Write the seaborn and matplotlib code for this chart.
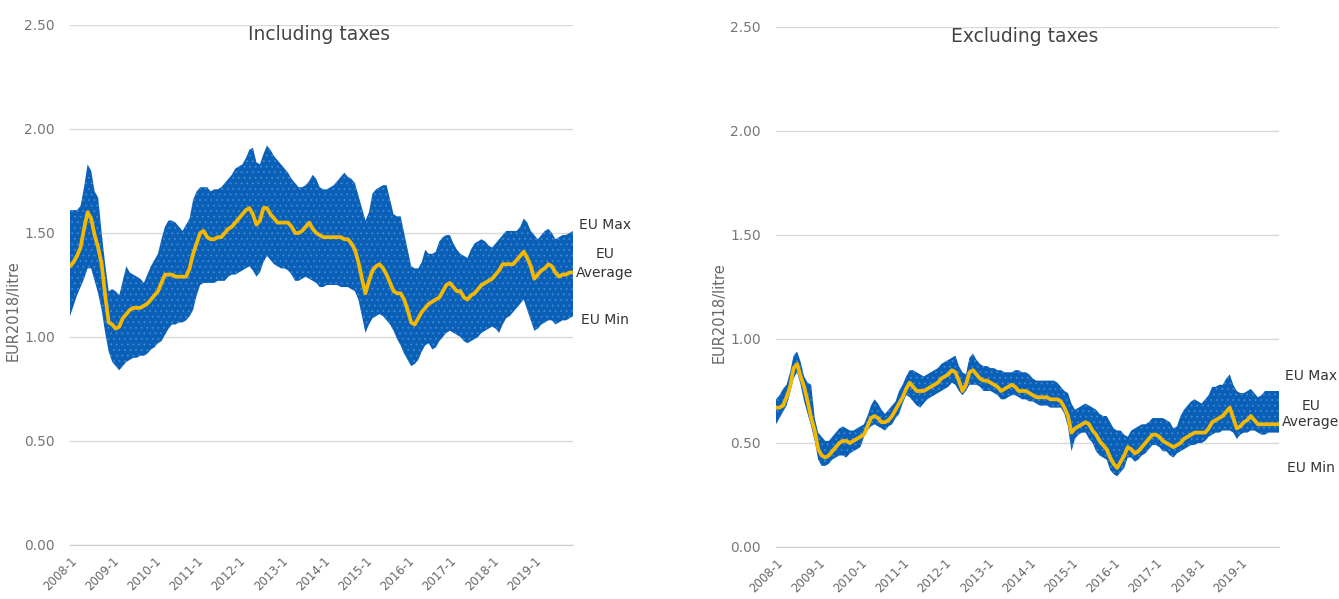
import numpy as np
import pandas as pd
import matplotlib
matplotlib.use("Agg")
import matplotlib.pyplot as plt
import seaborn as sns

# ---------------- data (monthly, 2008-1 .. 2019-12) ----------------
years = list(range(2008, 2020))
tick_labels = [f"{y}-1" for y in years]

incl_max = [
    1.61, 1.61, 1.61, 1.63, 1.72, 1.83, 1.80, 1.70, 1.67, 1.50, 1.35, 1.22,
    1.23, 1.22, 1.20, 1.27, 1.34, 1.31, 1.30, 1.29, 1.28, 1.26, 1.30, 1.34,
    1.37, 1.40, 1.47, 1.53, 1.56, 1.56, 1.55, 1.53, 1.51, 1.54, 1.57, 1.66,
    1.70, 1.72, 1.72, 1.72, 1.70, 1.71, 1.71, 1.72, 1.74, 1.76, 1.78, 1.81,
    1.82, 1.83, 1.86, 1.90, 1.91, 1.84, 1.83, 1.88, 1.92, 1.90, 1.87, 1.85,
    1.83, 1.81, 1.79, 1.76, 1.74, 1.72, 1.72, 1.73, 1.75, 1.78, 1.76, 1.72,
    1.71, 1.71, 1.72, 1.73, 1.75, 1.77, 1.79, 1.77, 1.76, 1.74, 1.68, 1.62,
    1.56, 1.60, 1.69, 1.71, 1.72, 1.73, 1.73, 1.66, 1.59, 1.58, 1.58, 1.50,
    1.42, 1.34, 1.33, 1.33, 1.36, 1.42, 1.40, 1.40, 1.41, 1.46, 1.48, 1.49,
    1.49, 1.45, 1.42, 1.40, 1.39, 1.38, 1.42, 1.45, 1.46, 1.47, 1.46, 1.44,
    1.43, 1.45, 1.47, 1.49, 1.51, 1.51, 1.51, 1.51, 1.53, 1.57, 1.55, 1.51,
    1.49, 1.47, 1.49, 1.51, 1.52, 1.50, 1.47, 1.48, 1.49, 1.49, 1.50, 1.51,
]
incl_avg = [
    1.34, 1.36, 1.39, 1.43, 1.52, 1.60, 1.57, 1.49, 1.43, 1.35, 1.20, 1.07,
    1.06, 1.04, 1.05, 1.09, 1.11, 1.13, 1.14, 1.14, 1.14, 1.15, 1.16, 1.18,
    1.20, 1.22, 1.26, 1.30, 1.30, 1.30, 1.29, 1.29, 1.29, 1.29, 1.33, 1.40,
    1.45, 1.50, 1.51, 1.48, 1.47, 1.47, 1.48, 1.48, 1.50, 1.52, 1.53, 1.55,
    1.57, 1.59, 1.61, 1.62, 1.59, 1.54, 1.56, 1.62, 1.62, 1.59, 1.57, 1.55,
    1.55, 1.55, 1.55, 1.53, 1.50, 1.50, 1.51, 1.53, 1.55, 1.52, 1.50, 1.49,
    1.48, 1.48, 1.48, 1.48, 1.48, 1.48, 1.47, 1.47, 1.45, 1.42, 1.36, 1.28,
    1.21, 1.27, 1.32, 1.34, 1.35, 1.33, 1.30, 1.26, 1.22, 1.21, 1.21, 1.18,
    1.13, 1.07, 1.06, 1.09, 1.12, 1.14, 1.16, 1.17, 1.18, 1.19, 1.22, 1.25,
    1.26, 1.24, 1.22, 1.22, 1.19, 1.18, 1.20, 1.21, 1.23, 1.25, 1.26, 1.27,
    1.28, 1.30, 1.32, 1.35, 1.35, 1.35, 1.35, 1.37, 1.39, 1.41, 1.38, 1.34,
    1.28, 1.30, 1.32, 1.33, 1.35, 1.34, 1.31, 1.29, 1.30, 1.30, 1.31, 1.31,
]
incl_min = [
    1.10, 1.15, 1.20, 1.24, 1.28, 1.33, 1.33, 1.27, 1.21, 1.13, 1.02, 0.93,
    0.88, 0.86, 0.84, 0.86, 0.88, 0.89, 0.90, 0.90, 0.91, 0.91, 0.92, 0.94,
    0.95, 0.97, 0.98, 1.01, 1.04, 1.06, 1.06, 1.07, 1.07, 1.08, 1.10, 1.13,
    1.20, 1.25, 1.26, 1.26, 1.26, 1.26, 1.27, 1.27, 1.27, 1.29, 1.30, 1.30,
    1.31, 1.32, 1.33, 1.34, 1.32, 1.29, 1.31, 1.36, 1.39, 1.37, 1.35, 1.34,
    1.33, 1.33, 1.32, 1.30, 1.27, 1.27, 1.28, 1.29, 1.28, 1.27, 1.26, 1.24,
    1.24, 1.25, 1.25, 1.25, 1.25, 1.24, 1.24, 1.24, 1.23, 1.22, 1.18, 1.10,
    1.02, 1.06, 1.09, 1.10, 1.11, 1.10, 1.08, 1.06, 1.03, 0.99, 0.96, 0.92,
    0.89, 0.86, 0.87, 0.89, 0.93, 0.96, 0.97, 0.94, 0.95, 0.98, 1.00, 1.02,
    1.03, 1.02, 1.01, 1.00, 0.98, 0.97, 0.98, 0.99, 1.00, 1.02, 1.03, 1.04,
    1.05, 1.04, 1.02, 1.06, 1.09, 1.10, 1.12, 1.14, 1.16, 1.18, 1.13, 1.08,
    1.03, 1.04, 1.06, 1.07, 1.08, 1.08, 1.06, 1.07, 1.08, 1.08, 1.09, 1.10,
]

excl_max = [
    0.71, 0.73, 0.76, 0.78, 0.84, 0.92, 0.94, 0.89, 0.82, 0.79, 0.78, 0.62,
    0.55, 0.53, 0.51, 0.51, 0.53, 0.55, 0.57, 0.58, 0.57, 0.56, 0.56, 0.57,
    0.58, 0.59, 0.63, 0.68, 0.71, 0.69, 0.66, 0.64, 0.66, 0.68, 0.70, 0.75,
    0.78, 0.82, 0.85, 0.85, 0.84, 0.83, 0.82, 0.83, 0.84, 0.85, 0.86, 0.88,
    0.89, 0.90, 0.91, 0.92, 0.87, 0.84, 0.83, 0.91, 0.93, 0.90, 0.88, 0.87,
    0.87, 0.86, 0.86, 0.85, 0.85, 0.84, 0.84, 0.84, 0.85, 0.85, 0.84, 0.84,
    0.83, 0.81, 0.80, 0.80, 0.80, 0.80, 0.80, 0.80, 0.79, 0.77, 0.75, 0.74,
    0.69, 0.66, 0.67, 0.68, 0.69, 0.68, 0.67, 0.66, 0.64, 0.63, 0.63, 0.60,
    0.57, 0.56, 0.56, 0.54, 0.53, 0.56, 0.57, 0.58, 0.59, 0.59, 0.60, 0.62,
    0.62, 0.62, 0.62, 0.61, 0.60, 0.57, 0.58, 0.63, 0.66, 0.68, 0.70, 0.71,
    0.70, 0.69, 0.71, 0.73, 0.77, 0.77, 0.78, 0.78, 0.81, 0.83, 0.78, 0.75,
    0.74, 0.74, 0.75, 0.76, 0.74, 0.72, 0.73, 0.75, 0.75, 0.75, 0.75, 0.75,
]
excl_avg = [
    0.67, 0.67, 0.68, 0.72, 0.77, 0.86, 0.88, 0.82, 0.77, 0.70, 0.62, 0.56,
    0.47, 0.44, 0.43, 0.44, 0.46, 0.48, 0.50, 0.51, 0.51, 0.50, 0.51, 0.52,
    0.53, 0.54, 0.58, 0.62, 0.63, 0.62, 0.60, 0.60, 0.61, 0.63, 0.66, 0.69,
    0.72, 0.76, 0.79, 0.77, 0.75, 0.75, 0.75, 0.76, 0.77, 0.78, 0.79, 0.81,
    0.82, 0.83, 0.85, 0.84, 0.80, 0.75, 0.78, 0.84, 0.85, 0.83, 0.81, 0.80,
    0.80, 0.79, 0.78, 0.77, 0.75, 0.76, 0.77, 0.78, 0.77, 0.75, 0.75, 0.75,
    0.74, 0.73, 0.72, 0.72, 0.72, 0.72, 0.71, 0.71, 0.71, 0.70, 0.67, 0.63,
    0.55, 0.57, 0.58, 0.59, 0.60, 0.59, 0.56, 0.54, 0.51, 0.49, 0.47, 0.43,
    0.40, 0.38, 0.41, 0.44, 0.48, 0.47, 0.45, 0.46, 0.48, 0.50, 0.52, 0.54,
    0.54, 0.53, 0.51, 0.50, 0.49, 0.48, 0.49, 0.50, 0.52, 0.53, 0.54, 0.55,
    0.55, 0.55, 0.55, 0.57, 0.60, 0.61, 0.62, 0.63, 0.65, 0.67, 0.62, 0.57,
    0.58, 0.60, 0.61, 0.63, 0.61, 0.59, 0.59, 0.59, 0.59, 0.59, 0.59, 0.59,
]
excl_min = [
    0.59, 0.62, 0.65, 0.68, 0.74, 0.81, 0.84, 0.78, 0.70, 0.64, 0.58, 0.51,
    0.42, 0.39, 0.39, 0.40, 0.42, 0.43, 0.44, 0.44, 0.43, 0.45, 0.46, 0.47,
    0.48, 0.53, 0.56, 0.58, 0.59, 0.58, 0.57, 0.56, 0.58, 0.59, 0.62, 0.64,
    0.69, 0.73, 0.72, 0.70, 0.68, 0.67, 0.69, 0.71, 0.72, 0.73, 0.74, 0.75,
    0.76, 0.77, 0.79, 0.78, 0.75, 0.73, 0.75, 0.78, 0.78, 0.78, 0.77, 0.75,
    0.75, 0.75, 0.74, 0.73, 0.71, 0.71, 0.72, 0.73, 0.73, 0.72, 0.71, 0.71,
    0.70, 0.70, 0.69, 0.68, 0.68, 0.68, 0.67, 0.67, 0.67, 0.67, 0.64, 0.58,
    0.46, 0.52, 0.54, 0.55, 0.55, 0.52, 0.50, 0.46, 0.44, 0.43, 0.42, 0.37,
    0.35, 0.34, 0.36, 0.38, 0.43, 0.43, 0.41, 0.42, 0.44, 0.45, 0.47, 0.49,
    0.49, 0.48, 0.46, 0.46, 0.44, 0.43, 0.45, 0.46, 0.47, 0.48, 0.49, 0.49,
    0.50, 0.50, 0.51, 0.53, 0.54, 0.55, 0.55, 0.56, 0.56, 0.56, 0.55, 0.52,
    0.54, 0.55, 0.55, 0.56, 0.56, 0.55, 0.54, 0.54, 0.55, 0.55, 0.55, 0.55,
]

titles = ["Including taxes", "Excluding taxes"]
ylabel = "EUR2018/litre"
y_ticks = [0.0, 0.5, 1.0, 1.5, 2.0, 2.5]

# ---------------- style ----------------
sns.set_style("white")
plt.rcParams["font.family"] = ["DejaVu Sans"]
plt.rcParams["hatch.linewidth"] = 0.6

BAND = "#0a60b6"
DOTS = "#3f8ad8"
GOLD = "#f5b800"
GRID = "#d9d9d9"

n = len(incl_avg)
months = np.arange(n)

fig = plt.figure(figsize=(13.39, 5.99), dpi=100)
ax_pos = [
    [70 / 1339, 54 / 599, 503 / 1339, 520 / 599],
    [776 / 1339, 52 / 599, 503 / 1339, 520 / 599],
]

panels = [
    (incl_min, incl_avg, incl_max,
     [(1.54, "EU Max"), (1.40, "EU"), (1.31, "Average"), (1.08, "EU Min")]),
    (excl_min, excl_avg, excl_max,
     [(0.82, "EU Max"), (0.68, "EU"), (0.60, "Average"), (0.38, "EU Min")]),
]

for i, (mn, av, mx, labels) in enumerate(panels):
    ax = fig.add_axes(ax_pos[i])
    df = pd.DataFrame({"month": months, "min": mn, "avg": av, "max": mx})
    ax.fill_between(df["month"], df["min"], df["max"], facecolor=BAND,
                    edgecolor=DOTS, hatch="...", linewidth=0, zorder=2)
    sns.lineplot(data=df, x="month", y="avg", ax=ax, color=GOLD,
                 linewidth=2.7, zorder=3)
    ax.set_xlim(0, n - 1)
    ax.set_ylim(0, 2.5)
    ax.set_yticks(y_ticks)
    ax.set_yticklabels([f"{v:.2f}" for v in y_ticks])
    ax.set_xticks(np.arange(0, n, 12))
    ax.set_xticks([n - 1], minor=True)
    ax.set_xticklabels(tick_labels, rotation=45, ha="right",
                       rotation_mode="anchor")
    ax.tick_params(axis="x", which="both", length=5, color="#cccccc",
                   labelsize=8.5, labelcolor="#666666", pad=2)
    ax.tick_params(axis="y", length=0, labelsize=10, labelcolor="#777777",
                   pad=11)
    ax.grid(axis="y", color=GRID, linewidth=1, zorder=0)
    ax.grid(axis="x", visible=False)
    for s in ["top", "right", "left"]:
        ax.spines[s].set_visible(False)
    ax.spines["bottom"].set_color("#cccccc")
    ax.spines["bottom"].set_zorder(1)
    ax.set_xlabel("")
    ax.set_ylabel(ylabel, fontsize=10.5, color="#666666")
    ax.yaxis.set_label_coords(-0.098, 0.45)
    ax.text(0.495, 0.981, titles[i], transform=ax.transAxes, ha="center",
            va="center", fontsize=13.5, color="#444444")
    for yv, t in labels:
        ax.text(n - 1 + 9, yv, t, ha="center", va="center", fontsize=10,
                color="#333333", clip_on=False)

fig.savefig("out.png", dpi=100)
